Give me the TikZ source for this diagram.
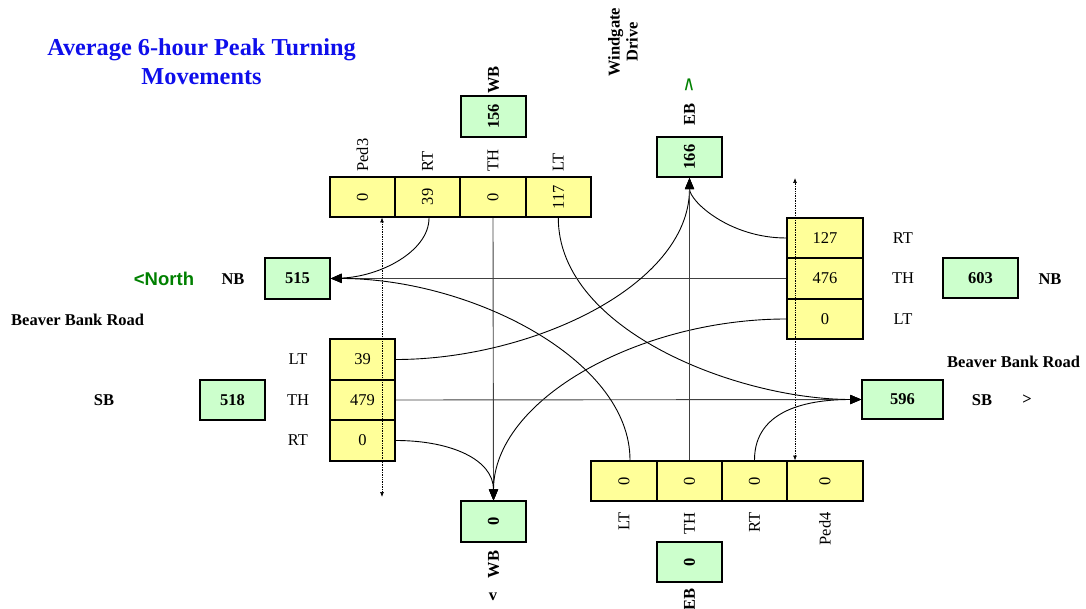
\documentclass[tikz,border=0pt]{standalone}
\usepackage{fontspec}
\usepackage{graphicx}
\setmainfont{Liberation Serif}
\newfontfamily\arialfont{Liberation Sans}
\usetikzlibrary{arrows.meta}
\definecolor{cellyel}{RGB}{255,255,153}
\definecolor{cellgrn}{RGB}{204,255,204}
\definecolor{titleblue}{RGB}{15,15,235}
\definecolor{dirgreen}{RGB}{0,128,0}
\newcommand\vrt[1]{\rotatebox{90}{#1}}
\begin{document}
\begin{tikzpicture}[x=1pt,y=-1pt,
  every node/.style={font=\fontsize{16.5}{18}\selectfont, inner sep=0pt},
  cell/.style={draw, line width=1.6pt, fill=cellyel, minimum width=65pt, minimum height=40.5pt},
  tot/.style={draw, line width=1.6pt, fill=cellgrn, minimum width=65pt, minimum height=40.5pt, font=\fontsize{16.5}{18}\selectfont\bfseries},
  bl/.style={font=\fontsize{16.5}{18}\selectfont\bfseries},
  titletxt/.style={anchor=base, text=titleblue, font=\fontsize{24.3}{27}\selectfont\bfseries},
  flow/.style={line width=0.9pt, -{Triangle[length=11pt,width=9pt,color=black]}},
  thru/.style={flow, draw=black!75},
  ped/.style={densely dotted, line width=0.7pt, {Latex[length=5pt,width=4pt]}-{Latex[length=5pt,width=4pt]}},
]
\useasboundingbox (0,0) rectangle (1086,609);

% title
\node[titletxt] (title1) at (201.5,55.7) {Average 6-hour Peak Turning};
\node[titletxt] (title2) at (201.5,85) {Movements};

% street name
\node[bl, align=center, rotate=90] (windgate) at (623,42) {Windgate\\Drive};

% top approach
\node[cell] (tPed) at (362.5,197) {\vrt{0}};
\node[cell] (tRT) at (427.5,197) {\vrt{39}};
\node[cell] (tTH) at (493,197) {\vrt{0}};
\node[cell] (tLT) at (558.3,197) {\vrt{117}};
\node[anchor=south] (tPedL) at ([yshift=4pt]tPed.north) {\vrt{Ped3}};
\node[anchor=south] (tRTL) at ([yshift=4pt]tRT.north) {\vrt{RT}};
\node[anchor=south] (tTHL) at ([yshift=4pt]tTH.north) {\vrt{TH}};
\node[anchor=south] (tLTL) at ([yshift=4pt]tLT.north) {\vrt{LT}};
\node[tot] (g156) at (493.5,116.5) {\vrt{156}};
\node[bl, anchor=south] (wbTop) at ([yshift=1.5pt]g156.north) {\vrt{WB}};

% top exit
\node[tot] (g166) at (689.5,157) {\vrt{166}};
\node[bl, anchor=south] (ebTop) at ([yshift=10pt]g166.north) {\vrt{EB}};
\node[text=dirgreen, font=\fontsize{15}{16}\selectfont\arialfont\bfseries] (upArrow) at (689,88) {\scalebox{1}[1.8]{\textasciicircum}};

% right approach
\node[cell, minimum width=76pt] (rRT) at (825,238) {127};
\node[cell, minimum width=76pt] (rTH) at (825,278.5) {476};
\node[cell, minimum width=76pt] (rLT) at (825,319) {0};
\node (rRTL) at (903,238) {RT};
\node (rTHL) at (903,278.5) {TH};
\node (rLTL) at (903,319) {LT};
\node[tot, minimum width=75pt] (g603) at (980.5,278) {603};
\node[bl] (nbRight) at (1050,279) {NB};

% left exit
\node[tot] (g515) at (297.5,278.5) {515};
\node[bl] (nbLeft) at (233,279) {NB};
\node[text=dirgreen, font=\fontsize{18.5}{20}\selectfont\arialfont\bfseries] (north) at (164,279) {<North};
\node[bl, anchor=west] (bbrLeft) at (11,320) {Beaver Bank Road};

% left approach
\node[cell] (lLT) at (362.5,359.5) {39};
\node[cell] (lTH) at (362.5,400) {479};
\node[cell] (lRT) at (362.5,440.5) {0};
\node (lLTL) at (298,359.5) {LT};
\node (lTHL) at (298,400) {TH};
\node (lRTL) at (298,440.5) {RT};
\node[tot] (g518) at (232.5,400) {518};
\node[bl] (sbLeft) at (104,400) {SB};

% right exit
\node[tot, minimum width=81pt, minimum height=39pt] (g596) at (902.5,399.5) {596};
\node[bl, anchor=west] (bbrRight) at (947,362) {Beaver Bank Road};
\node[bl] (sbRight) at (982,400) {SB};
\node[bl] (gtRight) at (1027,400) {>};

% bottom approach
\node[cell, minimum width=66pt] (bLT) at (624,481) {\vrt{0}};
\node[cell] (bTH) at (689.5,481) {\vrt{0}};
\node[cell] (bRT) at (754.5,481) {\vrt{0}};
\node[cell, minimum width=76pt] (bPed) at (825,481) {\vrt{0}};
\node[anchor=north] (bLTL) at ([yshift=-10pt]bLT.south) {\vrt{LT}};
\node[anchor=north] (bTHL) at ([yshift=-10pt]bTH.south) {\vrt{TH}};
\node[anchor=north] (bRTL) at ([yshift=-10pt]bRT.south) {\vrt{RT}};
\node[anchor=north] (bPedL) at ([yshift=-10pt]bPed.south) {\vrt{Ped4}};
\node[tot] (gEBo) at (689.5,562) {\vrt{0}};
\node[bl, anchor=north] (ebBot) at ([yshift=-5pt]gEBo.south) {\vrt{EB}};

% bottom exit
\node[tot] (gWBo) at (493.5,521.5) {\vrt{0}};
\node[bl, anchor=north] (wbBot) at ([yshift=-8pt]gWBo.south) {\vrt{WB}};
\node[bl] (vBot) at (493,596.5) {v};

% pedestrian crossings
\coordinate (pedL1) at (382,217.5);
\coordinate (pedL2) at (382,497);
\coordinate (pedR1) at (795,178);
\coordinate (pedR2) at (795,460.5);
\draw[ped] (pedL1) -- (pedL2);
\draw[ped] (pedR1) -- (pedR2);

% movements
\draw[flow] ([xshift=1.5pt]tRT.south) .. controls +(0,33) and +(50,-2) .. (g515.east);
\draw[thru] (tTH.south) -- (gWBo.north);
\draw[flow] (tLT.south) .. controls +(0,113) and +(-122,0) .. (g596.west);

\draw[flow] (rRT.west) .. controls +(-57,0) and +(0,23) .. (g166.south);
\draw[thru] (rTH.west) -- (g515.east);
\draw[flow] (rLT.west) .. controls +(-147,0) and +(0,-101) .. (gWBo.north);

\draw[flow] (lLT.east) .. controls +(135,0) and +(0,108) .. (g166.south);
\draw[thru] (lTH.east) -- (g596.west);
\draw[flow] (lRT.east) .. controls +(55,0) and +(0,-41) .. (gWBo.north);

\draw[flow] ([xshift=6pt]bLT.north) .. controls +(0,-101) and +(139,0) .. (g515.east);
\draw[thru] (bTH.north) -- (g166.south);
\draw[flow] (bRT.north) .. controls +(0,-51) and +(-52,0) .. (g596.west);
\end{tikzpicture}
\end{document}
